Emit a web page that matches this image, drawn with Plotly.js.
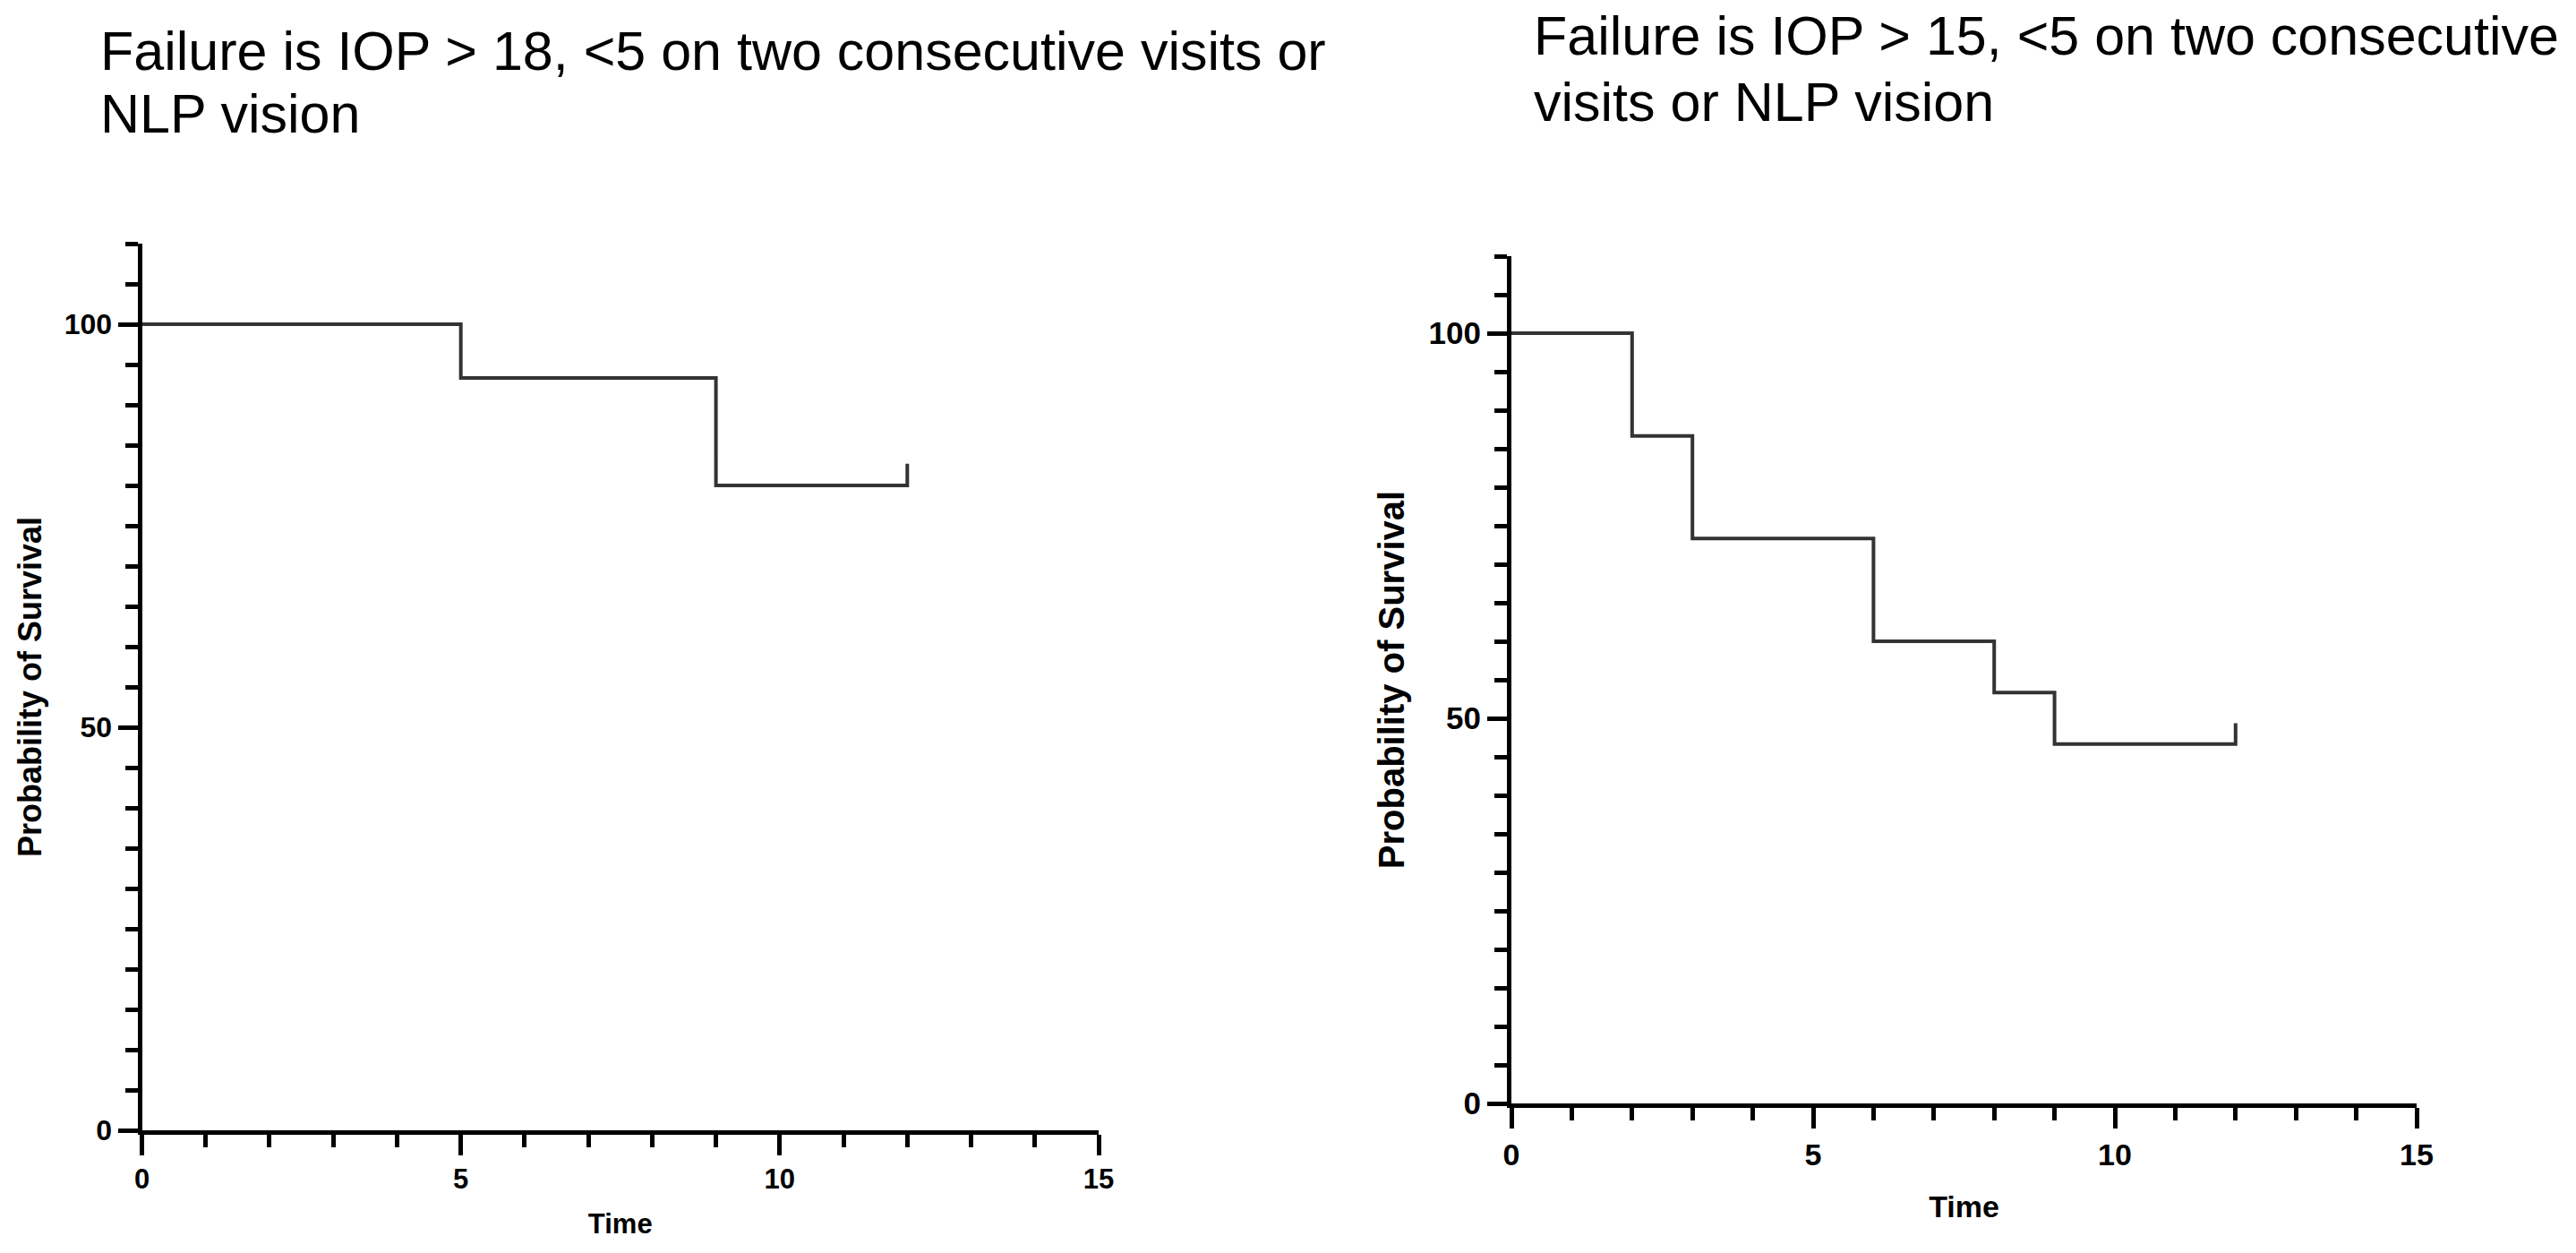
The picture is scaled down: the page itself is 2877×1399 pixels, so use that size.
<!DOCTYPE html>
<html>
<head>
<meta charset="utf-8">
<script src="https://cdn.plot.ly/plotly-3.0.1.min.js"></script>
<style>html,body{margin:0;padding:0;background:#fff;} #chart{width:2877px;height:1399px;}</style>
</head>
<body>
<div id="chart"></div>
<script>
// ---- data ----
const leftTitleLines = ["Failure is IOP > 18, <5 on two consecutive visits or", "NLP vision"];
const rightTitleLines = ["Failure is IOP > 15, <5 on two consecutive", "visits or NLP vision"];

const leftTimes = [0, 5, 9, 12];
const leftSurvival = [100, 93.33, 80, 80];
const leftCensorTime = [12];
const leftCensorValue = [80];

const rightTimes = [0, 2, 3, 6, 8, 9, 12];
const rightSurvival = [100, 86.67, 73.33, 60, 53.33, 46.67, 46.67];
const rightCensorTime = [12];
const rightCensorValue = [46.67];

const censorTickHeight = 2.7; // censored-subject tick above the curve

const xTickVals = [0, 5, 10, 15];
const yTickVals = [0, 50, 100];
const xAxisTitle = "Time";
const yAxisTitle = "Probability of Survival";

// ---- build traces ----
function curveTrace(t, s, ct, cv, xa, ya) {
  const x = t.slice(), y = s.slice();
  for (let i = 0; i < ct.length; i++) {
    x.push(ct[i]); y.push(cv[i] + censorTickHeight);
  }
  return {
    x: x, y: y, xaxis: xa, yaxis: ya,
    type: 'scatter', mode: 'lines',
    line: {shape: 'hv', color: '#333333', width: 4},
    hoverinfo: 'x+y', showlegend: false
  };
}

const traces = [
  curveTrace(leftTimes, leftSurvival, leftCensorTime, leftCensorValue, 'x', 'y'),
  curveTrace(rightTimes, rightSurvival, rightCensorTime, rightCensorValue, 'x2', 'y2')
];

const FONT = 'Liberation Sans, Arial, Helvetica, sans-serif';

function xAxis(domain, anchor, tickSize, titleSize, standoff) {
  return {
    domain: domain, anchor: anchor, range: [0, 15],
    showline: true, linecolor: '#000', linewidth: 5,
    ticks: 'outside', ticklen: 23, tickwidth: 5, tickcolor: '#000',
    tickmode: 'array', tickvals: xTickVals, ticktext: xTickVals.map(String),
    minor: {dtick: 1, tick0: 0, ticks: 'outside', ticklen: 14, tickwidth: 5, tickcolor: '#000', showgrid: false},
    showgrid: false, zeroline: false,
    tickfont: {family: FONT, size: tickSize, color: '#000', weight: 'bold'},
    title: {text: xAxisTitle, font: {family: FONT, size: titleSize, color: '#000', weight: 'bold'}, standoff: standoff},
    automargin: false, fixedrange: true
  };
}
function yAxis(domain, anchor, tickSize, titleSize, standoff) {
  return {
    domain: domain, anchor: anchor, range: [0, 110],
    showline: true, linecolor: '#000', linewidth: 5,
    ticks: 'outside', ticklen: 22, tickwidth: 5, tickcolor: '#000',
    tickmode: 'array', tickvals: yTickVals, ticktext: yTickVals.map(String),
    minor: {dtick: 5, tick0: 0, ticks: 'outside', ticklen: 14, tickwidth: 5, tickcolor: '#000', showgrid: false},
    showgrid: false, zeroline: false,
    tickfont: {family: FONT, size: tickSize, color: '#000', weight: 'bold'},
    title: {text: yAxisTitle, font: {family: FONT, size: titleSize, color: '#000', weight: 'bold'}, standoff: standoff},
    automargin: false, fixedrange: true
  };
}

const W = 2877, H = 1399;
function titleAnn(text, px, py) {
  return {
    text: text, xref: 'paper', yref: 'paper', x: px / W, y: 1 - py / H,
    xanchor: 'left', yanchor: 'middle', showarrow: false,
    font: {family: FONT, size: 61, color: '#000'}
  };
}

const layout = {
  width: W, height: H,
  margin: {l: 0, r: 0, t: 0, b: 0},
  paper_bgcolor: '#fff', plot_bgcolor: '#fff',
  showlegend: false,
  xaxis: xAxis([158.5 / W, 1227 / W], 'y', 31, 31, 24),
  yaxis: yAxis([137 / H, 1127 / H], 'x', 32, 36, 16),
  xaxis2: xAxis([1688 / W, 2699 / W], 'y2', 34, 34, 30),
  yaxis2: yAxis([167 / H, 1113 / H], 'x2', 35, 40, 16),
  annotations: [
    titleAnn(leftTitleLines[0], 110, 57),
    titleAnn(leftTitleLines[1], 110, 127),
    titleAnn(rightTitleLines[0], 1711, 40),
    titleAnn(rightTitleLines[1], 1711, 114)
  ]
};

Plotly.newPlot('chart', traces, layout, {staticPlot: true, displayModeBar: false});
</script>
</body>
</html>
